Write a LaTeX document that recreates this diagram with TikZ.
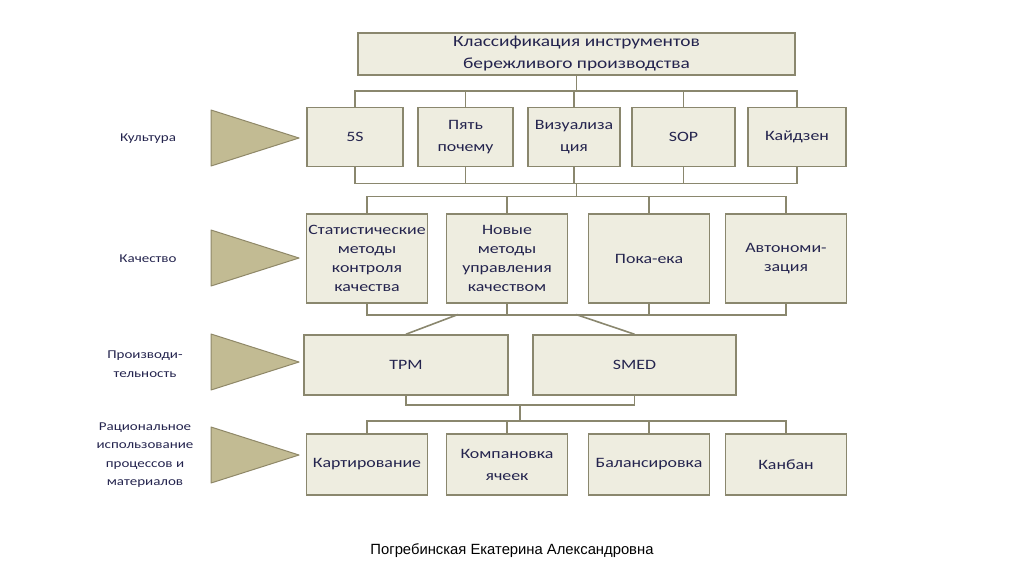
\documentclass[tikz,border=0pt]{standalone}
\usepackage{fontspec}
\setmainfont{Carlito}[FakeStretch=1.25]
\newfontfamily\fiofont{Liberation Sans}
\usetikzlibrary{calc}
\definecolor{boxclr}{HTML}{EEEDE0}
\definecolor{lineclr}{HTML}{8A876E}
\definecolor{triclr}{HTML}{C2BB93}
\definecolor{tridark}{HTML}{8F8868}
\definecolor{txtclr}{RGB}{36,36,78}
\begin{document}
\begin{tikzpicture}[x=1pt,y=-1pt,
  box/.style={draw=lineclr,fill=boxclr,text=txtclr,line width=1.6pt,align=center,inner sep=1pt,
    font=\fontsize{14.3}{19}\selectfont},
  widebox/.style={box,font=\fontsize{14.3}{22}\selectfont},
  con/.style={draw=lineclr,line width=1.6pt},
  tri/.style={draw=tridark,fill=triclr,line width=1pt,line join=round},
  lbl/.style={text=txtclr,align=center,font=\fontsize{12}{18.5}\selectfont}]
\useasboundingbox (0,0) rectangle (1024,574);
\node[box,minimum width=437pt,minimum height=42pt,font=\fontsize{15.5}{22}\selectfont] (ttl) at (576.5,54) {Классификация инструментов\\бережливого производства};
\node[widebox,minimum width=96pt,minimum height=59pt] (k1) at (355,137) {5S};
\node[widebox,minimum width=95pt,minimum height=59pt] (k2) at (465.5,137) {Пять\\почему};
\node[widebox,minimum width=92pt,minimum height=59pt] (k3) at (574,137) {Визуализа\\ция};
\node[widebox,minimum width=103pt,minimum height=59pt] (k4) at (683.5,137) {SOP};
\node[widebox,minimum width=98pt,minimum height=59pt] (k5) at (797,137) {Кайдзен};
\node[box,minimum width=121pt,minimum height=89pt] (q1) at (367,258.5) {Статистические\\методы\\контроля\\качества};
\node[box,minimum width=121pt,minimum height=89pt] (q2) at (507,258.5) {Новые\\методы\\управления\\качеством};
\node[box,minimum width=121pt,minimum height=89pt] (q3) at (649,258.5) {Пока-ека};
\node[box,minimum width=121pt,minimum height=89pt] (q4) at (786,258.5) {Автономи-\\зация};
\node[box,minimum width=204pt,minimum height=60pt] (p1) at (406,365) {TPM};
\node[box,minimum width=203pt,minimum height=60pt] (p2) at (634.5,365) {SMED};
\node[box,minimum width=121pt,minimum height=61pt] (r1) at (367,464.5) {Картирование};
\node[widebox,minimum width=121pt,minimum height=61pt] (r2) at (507,464.5) {Компановка\\ячеек};
\node[box,minimum width=121pt,minimum height=61pt] (r3) at (649,464.5) {Балансировка};
\node[box,minimum width=121pt,minimum height=61pt] (r4) at (786,464.5) {Канбан};
\draw[con] (ttl.south) -- ++(0,15) coordinate (b1);
\draw[con] (k1.north) |- (b1) -| (k5.north);
\foreach \n in {k2,k3,k4} \draw[con] (\n.north) -- (\n.north |- b1);
\draw[con] (k1.south) -- ++(0,16) coordinate (b2) -| (k5.south);
\foreach \n in {k2,k3,k4} \draw[con] (\n.south) -- (\n.south |- b2);
\draw[con] (ttl.south |- b2) -- ++(0,13) coordinate (b3);
\draw[con] (q1.north) |- (b3) -| (q4.north);
\foreach \n in {q2,q3} \draw[con] (\n.north) -- (\n.north |- b3);
\draw[con] (q1.south) -- ++(0,11) coordinate (b4) -| (q4.south);
\foreach \n in {q2,q3} \draw[con] (\n.south) -- (\n.south |- b4);
\coordinate (d1) at (458,314.5);
\coordinate (d2) at (576,314.5);
\draw[con] (d1) -- (p1.north);
\draw[con] (d2) -- (p2.north);
\draw[con] (p1.south) -- ++(0,9) coordinate (b5) -| (p2.south);
\draw[con] ($(b5)!.5!(p2.south |- b5)$) -- ++(0,16) coordinate (b6);
\draw[con] (r1.north) |- (b6) -| (r4.north);
\foreach \n in {r2,r3} \draw[con] (\n.north) -- (\n.north |- b6);
% triangles and row names
\foreach \y in {138,258,362,455} \draw[tri] (211,\y-28) -- (299,\y) -- (211,\y+28) -- cycle;
\node[lbl] (l1) at (148,139) {Культура};
\node[lbl] (l2) at (148,259) {Качество};
\node[lbl] (l3) at (145,364) {Производи-\\тельность};
\node[lbl] (l4) at (145,455) {Рациональное\\использование\\процессов и\\материалов};
\node[font=\fiofont\fontsize{14.8}{16}\selectfont] (fio) at (512,551) {Погребинская Екатерина Александровна};
\end{tikzpicture}
\end{document}
